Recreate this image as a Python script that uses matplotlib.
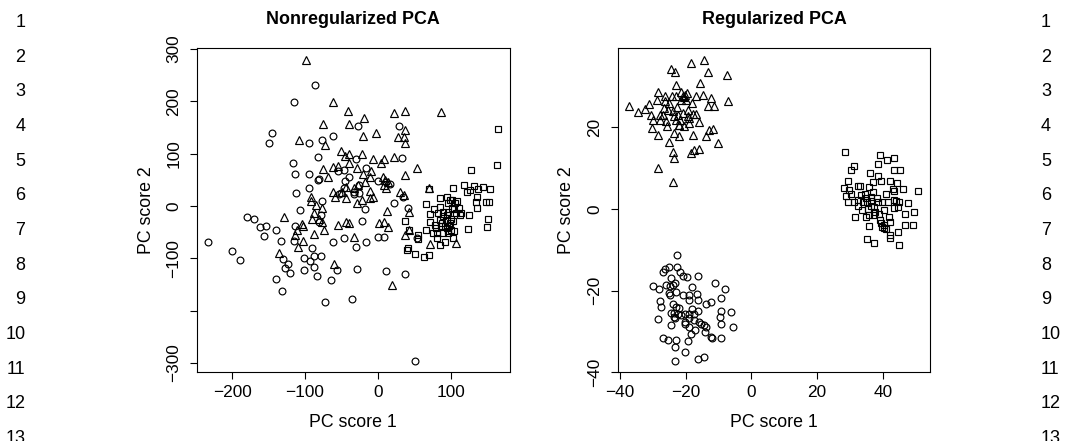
import matplotlib
matplotlib.use("Agg")
import matplotlib.pyplot as plt

plt.rcParams['font.family'] = ['Liberation Sans', 'DejaVu Sans']

# ---------------- Nonregularized PCA ----------------
nr_tri_x = [-99, -61, -41, -19, 22, 38, 87, -75, -40, -20, -3, 37, 28, 36, 38, -108, -73, -50, -39, -45,
            -22, -7, 8, 22, 5, -40, 54, -29, -61, -75, -55, -68, 37, -20, -9, -11, -17, 7, 10, 14,
            9, -61, -49, -43, -33, -27, -10, -10, -6, -21, -29, -44, 11, 31, 36, 70, -91, -92, -85, -76,
            -87, -90, -80, -76, -74, -129, -104, -102, -111, -114, -102, -110, -88, -135, -55, -43, -40, -33, 2, 8,
            14, 13, 43, 38, 43, 72, 108, -60, 20, -59]
nr_tri_y = [279, 199, 182, 169, 177, 182, 180, 157, 156, 134, 139, 145, 131, 131, 120, 126, 117, 105, 99, 96,
            99, 90, 90, 94, 83, 83, 73, 73, 74, 71, 76, 56, 59, 62, 66, 56, 46, 56, 50, 46,
            40, 27, 27, 37, 34, 40, 29, 15, 18, 11, 6, 15, 34, 26, 21, 35, 18, 10, 2, -3,
            -14, -24, -24, -30, -45, -21, -34, -39, -46, -55, -66, -79, -53, -89, -37, -30, -32, -59, -32, -30,
            -40, -10, -12, -56, -46, -73, -70, -111, -152, 17]

nr_cir_x = [-86, -115, -145, -149, -94, -77, -62, -27, 29, -82, -117, -30, 33, -113, -95, -80, -82, -46, -54, -16,
            -39, -45, -46, -26, 1, 17, 11, -53, -51, -32, -26, -94, -112, -76, -107, -17, 22, 35, -180, -170,
            -161, -153, -156, -139, -133, -233, -200, -189, -113, -115, -78, -80, -90, -87, -78, -101, -93, -130, -123, -127,
            -140, -120, -131, -101, -88, -83, -56, -64, -72, -29, -35, -62, -46, -30, -16, -21, 0, 9, 12, 37,
            51, 54, 41, -32]
nr_cir_y = [231, 198, 139, 120, 120, 127, 133, 152, 153, 94, 83, 89, 92, 62, 61, 52, 50, 68, 67, 72,
            56, 48, 34, 40, 47, 42, 46, 23, 25, 22, 25, 35, 24, 10, -8, -5, 5, 18, -21, -25,
            -41, -39, -57, -46, -66, -69, -87, -104, -38, -66, -17, -31, -80, -96, -96, -99, -106, -101, -111, -118,
            -139, -129, -162, -122, -116, -134, -122, -142, -183, -120, -177, -69, -62, -78, -68, -29, -60, -60, -124, -131,
            -296, -62, -4, 27]

nr_sq_x = [165, 164, 128, 119, 132, 144, 154, 138, 127, 122, 137, 149, 153, 135, 136, 125, 113, 151, 150, 124,
           103, 71, 66, 86, 95, 102, 97, 106, 85, 77, 72, 83, 90, 97, 105, 108, 72, 67, 76, 81,
           85, 93, 90, 92, 95, 100, 101, 104, 86, 87, 82, 97, 103, 105, 64, 71, 51, 40, 41, 43,
           37, 56, 55, 79, 88, 95, 99, 90, 115, 99, 102, 111, 109, 80, 95, 96, 98]
nr_sq_y = [147, 79, 68, 40, 38, 37, 32, 32, 31, 26, 17, 8, 8, 8, -4, -17, -17, -25, -41, -44,
           35, 32, 4, 15, 18, 11, 5, 5, -1, -6, -15, -14, -11, -11, -6, -14, -31, -46, -52, -62,
           -75, -69, -52, -39, -27, -46, -24, -29, -27, -39, -51, -52, -62, -47, -97, -94, -92, -84, -81, -46,
           -29, -55, -64, -36, -32, -17, -33, -20, -14, 11, -4, -4, 10, -43, -43, -48, -39]

# ---------------- Regularized PCA ----------------
r_tri_x = [-37.4, -34.6, -32.3, -31.3, -30.6, -30.1, -30.3, -28.5, -28.3, -28.5, -27.7, -27.0, -26.7, -26.3, -25.9,
           -25.7, -25.2, -25.0, -24.5, -24.3, -23.9, -23.5, -23.8, -23.5, -23.1, -22.8, -22.9, -22.6, -22.4, -22.1,
           -21.6, -21.4, -20.9, -20.4, -20.2, -19.9, -19.4, -18.9, -18.5, -18.2, -17.9, -17.7, -18.4, -17.4, -16.9,
           -16.0, -15.8, -15.5, -14.6, -14.3, -13.8, -13.3, -13.1, -12.3, -11.8, -11.3, -10.3, -7.4, -7.2, -28.7,
           -27.9, -23.9, -22.9, -21.4, -20.4, -21.9, -23.5, -25.5, -19.7, -16.9, -26.3, -20.9, -18.9, -21.9, -12.8, -19.4]
r_tri_y = [25.3, 23.9, 24.5, 25.7, 23.1, 21.8, 19.8, 28.6, 18.2, 10.0, 21.8, 23.1, 24.7, 26.4, 21.7,
           20.4, 25.9, 16.5, 34.3, 27.6, 14.1, 12.4, 6.7, 18.6, 33.5, 30.4, 27.6, 25.1, 23.1, 20.5,
           21.8, 28.8, 27.6, 20.4, 28.0, 26.8, 22.7, 21.2, 35.8, 25.9, 23.2, 18.2, 13.8, 14.5, 27.6,
           14.6, 21.4, 30.9, 28.0, 36.6, 17.8, 33.7, 25.3, 27.2, 19.6, 25.3, 16.1, 32.9, 26.5, 26.8,
           23.0, 24.0, 21.8, 26.8, 27.4, 20.6, 22.7, 24.3, 28.4, 23.3, 27.6, 23.5, 22.3, 17.9, 19.4, 24.3]

r_cir_x = [-22.7, -22.5, -21.8, -27.0, -26.3, -25.1, -20.9, -19.7, -16.3, -24.4, -23.4, -23.9, -29.8, -28.2, -25.9,
           -24.9, -22.9, -20.9, -19.1, -18.0, -16.4, -11.0, -8.1, -25.2, -24.9, -19.1, -16.3, -27.9, -27.5, -23.9,
           -22.9, -21.9, -18.2, -13.8, -12.3, -9.1, -24.6, -23.6, -22.4, -21.4, -20.1, -18.9, -17.6, -16.3, -23.5,
           -23.1, -19.1, -17.6, -20.2, -20.2, -15.8, -15.3, -14.3, -13.9, -19.1, -24.6, -28.5, -9.6, -9.1, -6.3,
           -5.6, -9.3, -18.3, -14.0, -12.0, -9.3, -26.9, -25.5, -22.9, -19.4, -23.4, -20.2, -16.3, -14.3, -23.4,
           -12.3, -17.1]
r_cir_y = [-11.3, -14.2, -15.4, -15.4, -14.8, -14.2, -16.3, -16.6, -16.4, -16.9, -18.1, -18.7, -18.9, -19.5, -18.7,
           -18.9, -20.3, -21.1, -21.1, -19.2, -20.7, -18.1, -19.7, -20.6, -21.1, -22.3, -22.3, -22.5, -24.0, -23.2,
           -24.0, -24.2, -24.6, -23.2, -22.7, -21.9, -25.5, -25.5, -25.6, -26.0, -25.6, -25.6, -25.8, -25.0, -26.4,
           -26.7, -26.8, -27.2, -27.7, -28.1, -27.7, -28.2, -28.5, -28.9, -28.9, -28.5, -27.0, -26.4, -25.0, -25.2,
           -28.9, -28.1, -30.5, -30.1, -31.5, -31.6, -31.6, -32.2, -32.2, -32.3, -33.8, -35.0, -36.7, -36.3, -37.2,
           -31.4, -29.7]

r_sq_x = [28.5, 31.4, 30.4, 39.1, 43.4, 41.3, 38.7, 43.5, 45.2, 36.2, 38.5, 29.3, 32.4, 33.2, 35.9, 37.2, 39.5, 42.2,
          44.3, 46.3, 50.9, 28.3, 29.8, 28.8, 30.5, 33.4, 36.5, 38.3, 41.0, 43.4, 29.3, 31.4, 32.4, 33.9, 35.2, 36.5,
          38.5, 39.7, 41.6, 44.0, 45.1, 47.6, 32.4, 33.7, 35.5, 37.5, 40.5, 43.5, 44.8, 46.8, 49.6, 31.7, 34.9, 35.9,
          37.5, 39.3, 42.0, 42.3, 39.5, 40.5, 39.7, 40.5, 35.7, 41.0, 44.8, 42.3, 46.9, 49.3, 42.3, 35.3, 37.5, 45.1,
          43.2, 37.0, 34.6, 37.8, 36.5, 34.9, 38.8, 43.5]
r_sq_y = [14.1, 10.6, 9.6, 13.3, 12.4, 12.0, 11.0, 9.6, 9.6, 8.8, 8.2, 6.9, 5.7, 5.7, 5.5, 6.7, 6.9, 7.0,
          6.5, 5.0, 4.5, 5.1, 4.7, 3.2, 3.8, 3.4, 3.0, 2.8, 3.8, 4.4, 1.7, 1.8, 2.2, 1.8, 1.8, 2.0,
          1.8, 1.8, 1.8, 2.0, 1.8, 1.6, 0.7, -0.2, -0.1, 0.4, -0.2, 0.2, 0.6, -1.1, -0.8, -1.9, -2.0, -1.5,
          -1.5, -2.7, -2.0, -3.1, -3.4, -3.9, -4.5, -4.6, -4.1, -5.0, -5.7, -6.4, -3.9, -3.9, -7.2, -7.4, -8.3, -8.7,
          4.9, 4.1, 3.7, -0.8, 0.7, 2.6, -1.1, 2.2]

titles = ["Nonregularized PCA", "Regularized PCA"]
xlabel = "PC score 1"
ylabel = "PC score 2"
nr_xticks = [-200, -100, 0, 100]
nr_yticks = [-300, -200, -100, 0, 100, 200, 300]
nr_yticklabels = ["\u2212300", "", "\u2212100", "0", "100", "200", "300"]
r_xticks = [-40, -20, 0, 20, 40]
r_yticks = [-40, -20, 0, 20]
line_numbers = [str(i) for i in range(1, 14)]

W, H = 1082, 441
fig = plt.figure(figsize=(W / 100, H / 100), dpi=100)

def px_axes(l, t, r, b):
    return fig.add_axes([l / W, 1 - b / H, (r - l) / W, (b - t) / H])

ax1 = px_axes(196.7, 48.3, 510.0, 372.3)
ax2 = px_axes(617.7, 48.3, 930.3, 372.3)

mk = dict(linestyle='none', markerfacecolor='none', markeredgecolor='black', markeredgewidth=0.85)

def draw(ax, tx, ty, cx, cy, sx, sy):
    ax.plot(cx, cy, marker='o', markersize=4.9, **mk)
    ax.plot(tx, ty, marker='^', markersize=5.4, **mk)
    ax.plot(sx, sy, marker='s', markersize=3.8, **mk)

draw(ax1, nr_tri_x, nr_tri_y, nr_cir_x, nr_cir_y, nr_sq_x, nr_sq_y)
draw(ax2, r_tri_x, r_tri_y, r_cir_x, r_cir_y, r_sq_x, r_sq_y)

ax1.set_xlim(-248.6, 181.7)
ax1.set_ylim(-318, 301.5)
ax2.set_xlim(-40.7, 54.5)
ax2.set_ylim(-40.0, 39.4)

ax1.set_xticks(nr_xticks)
ax1.set_xticklabels([f"{v}".replace("-", "\u2212") for v in nr_xticks])
ax1.set_yticks(nr_yticks)
ax1.set_yticklabels(nr_yticklabels)
ax2.set_xticks(r_xticks)
ax2.set_xticklabels([f"{v}".replace("-", "\u2212") for v in r_xticks])
ax2.set_yticks(r_yticks)
ax2.set_yticklabels([f"{v}".replace("-", "\u2212") for v in r_yticks])

for ax, title, ylx in ((ax1, titles[0], -0.160), (ax2, titles[1], -0.165)):
    for s in ax.spines.values():
        s.set_linewidth(0.8)
    ax.tick_params(direction='out', length=5, width=0.8, labelsize=12.4, pad=4, color='black')
    ax.tick_params(axis='y', pad=6)
    for lab in ax.get_yticklabels():
        lab.set_rotation(90)
        lab.set_va('center')
        lab.set_ha('right')
    ax.set_xlabel(xlabel, fontsize=12.8, va='center')
    ax.xaxis.set_label_coords(0.5, -0.156)
    ax.set_ylabel(ylabel, fontsize=12.8, va='center')
    ax.yaxis.set_label_coords(ylx, 0.5)
    ax.text(0.5, 1 + 28.3 / 324, title, transform=ax.transAxes, ha='center', va='center',
            fontsize=12.9, fontweight='bold')

for i, t in enumerate(line_numbers):
    ypx = 22.7 + i * 34.63
    fig.text(25.5 / W, 1 - ypx / H, t, ha='right', va='center', fontsize=13)
    fig.text(1041 / W, 1 - ypx / H, t, ha='left', va='center', fontsize=13)

fig.savefig("out.png", dpi=100)
